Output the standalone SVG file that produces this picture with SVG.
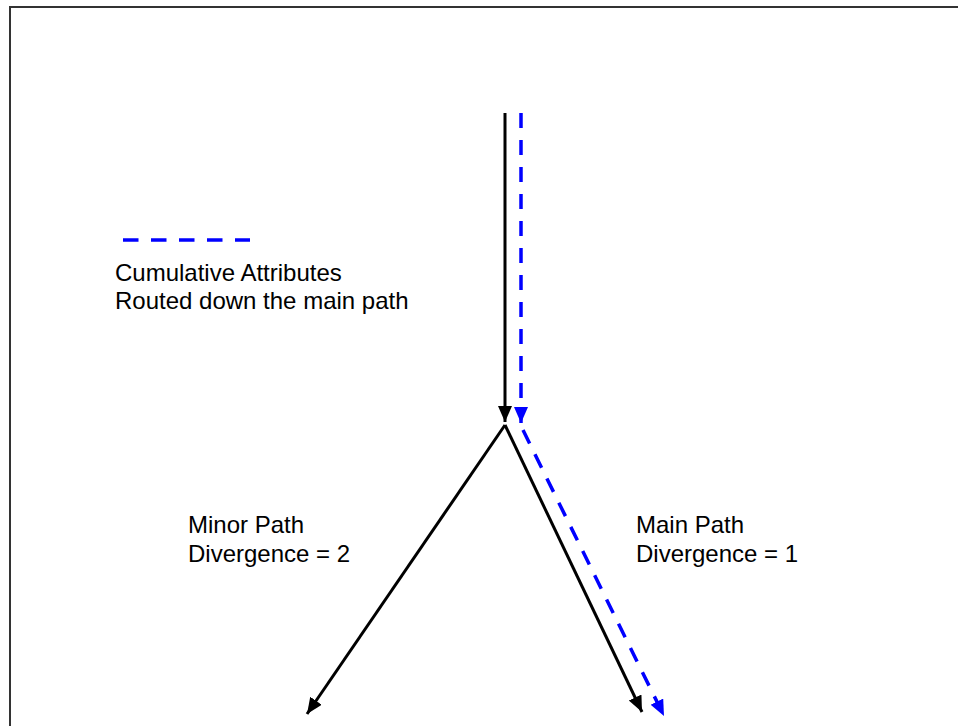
<svg xmlns="http://www.w3.org/2000/svg" width="958" height="726" viewBox="0 0 958 726">
<style>
.lbl{font-family:"Liberation Sans",Arial,sans-serif;font-size:24px;fill:#000}
.blk{stroke:#000;stroke-width:3;fill:none}
.blu{stroke:#0000ff;stroke-width:3.5;fill:none;stroke-dasharray:15 12}
</style>
<defs>
<marker id="ab" markerUnits="userSpaceOnUse" markerWidth="18" markerHeight="16" refX="16" refY="7" orient="auto">
<path d="M0,0 L16,7 L0,14 z" fill="#000"/>
</marker>
<marker id="au" markerUnits="userSpaceOnUse" markerWidth="18" markerHeight="16" refX="16" refY="7" orient="auto">
<path d="M0,0 L16,7 L0,14 z" fill="#0000ff"/>
</marker>
</defs>
<rect width="958" height="726" fill="#fff"/>
<path d="M10,726 L10,7 L958,7" fill="none" stroke="#333" stroke-width="2"/>
<g id="connectors">
<line class="blk" x1="505" y1="113" x2="505" y2="422" marker-end="url(#ab)"/>
<line class="blk" x1="505" y1="425" x2="307" y2="714" marker-end="url(#ab)"/>
<line class="blk" x1="505" y1="425" x2="642" y2="712" marker-end="url(#ab)"/>
<line class="blu" x1="521" y1="113" x2="521" y2="423" marker-end="url(#au)"/>
<line class="blu" x1="523" y1="430" x2="664" y2="716" marker-end="url(#au)"/>
</g>
<g id="legend">
<line x1="123" y1="240" x2="250" y2="240" stroke="#0000ff" stroke-width="3.5" stroke-dasharray="15.5 12.5"/>
<text class="lbl" x="115" y="281">Cumulative Attributes</text>
<text class="lbl" x="115" y="309">Routed down the main path</text>
</g>
<g id="minor-label">
<text class="lbl" x="188" y="533">Minor Path</text>
<text class="lbl" x="188" y="562">Divergence = 2</text>
</g>
<g id="main-label">
<text class="lbl" x="636" y="533">Main Path</text>
<text class="lbl" x="636" y="562">Divergence = 1</text>
</g>
</svg>
